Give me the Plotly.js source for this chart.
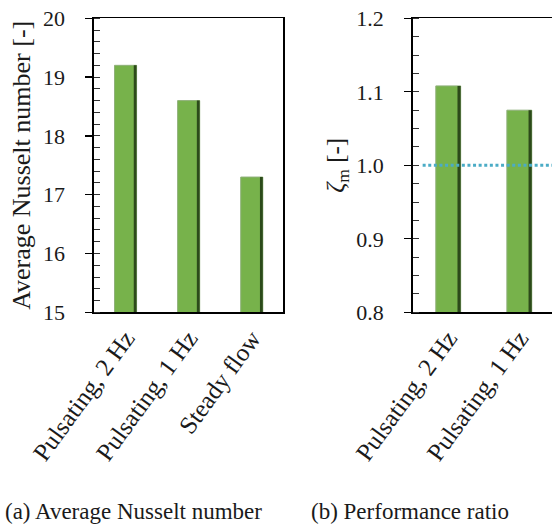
<!DOCTYPE html>
<html>
<head>
<meta charset="utf-8">
<script src="https://cdn.plot.ly/plotly-3.0.1.min.js"></script>
<style>html,body{margin:0;padding:0;background:#fff;}#chart{width:552px;height:524px;}</style>
</head>
<body>
<div id="chart"></div>
<script>
// Data
var categories = ["Pulsating, 2 Hz", "Pulsating, 1 Hz", "Steady flow"];
var nusselt = [19.2, 18.6, 17.3];
var ratio = [1.108, 1.075, 1.0];
var ratioReference = [1.0];
var nusseltTicks = [15, 16, 17, 18, 19, 20];
var ratioTicks = [0.8, 0.9, 1.0, 1.1, 1.2];
var captions = ["(a) Average Nusselt number", "(b) Performance ratio"];

var FONT = "'Liberation Serif', 'Times New Roman', serif";
var TXT = "#1a1a1a";
var GREEN = "#77b24b";
var DARK = "#2c4a1a";
var EDGE = "#8fb07a";

function bars(xa, ya, vals) {
  return [
    {type: "bar", x: categories, y: vals, xaxis: xa, yaxis: ya, width: 0.35, offset: -0.175,
     marker: {color: GREEN, line: {color: EDGE, width: 1}}, hoverinfo: "skip", showlegend: false},
    {type: "bar", x: categories, y: vals, xaxis: xa, yaxis: ya, width: 0.045, offset: 0.13,
     marker: {color: DARK, line: {width: 0}}, hoverinfo: "skip", showlegend: false}
  ];
}

var data = bars("x", "y", nusselt).concat(bars("x2", "y2", ratio));

var H = 524, W = 552;
var yDom = [1 - 312.3 / H, 1 - 18.3 / H];

var baseY = {
  showgrid: false, zeroline: false, showline: true, linecolor: "#000", linewidth: 1.6,
  ticks: "outside", ticklen: 7, tickwidth: 1.3, tickcolor: "#000",
  tickfont: {family: FONT, size: 22, color: TXT}, ticklabelstandoff: 16
};

var layout = {
  width: W, height: H,
  margin: {l: 0, r: 0, t: 0, b: 0},
  paper_bgcolor: "#fff", plot_bgcolor: "#fff",
  barmode: "overlay",
  font: {family: FONT, color: TXT},
  xaxis: {domain: [94 / W, 283.3 / W], anchor: "y", type: "category", range: [-0.5, 2.5],
    showgrid: false, zeroline: false, showline: true, mirror: true, linecolor: "#000", linewidth: 1.4,
    ticks: "", tickangle: -54, tickfont: {family: FONT, size: 25, color: TXT}},
  yaxis: Object.assign({}, baseY, {domain: yDom, anchor: "x", range: [15, 20], tickvals: nusseltTicks,
    mirror: true, minor: {ticks: "inside", ticklen: 6, tickwidth: 1, tickcolor: "#333", dtick: 0.2},
    title: {text: "Average Nusselt number [-]", font: {family: FONT, size: 26, color: TXT}, standoff: 5}}),
  xaxis2: {domain: [412.7 / W, 1], anchor: "y2", type: "category", range: [-0.5, 1.46],
    showgrid: false, zeroline: false, showline: true, mirror: true, linecolor: "#000", linewidth: 1.4,
    ticks: "", tickangle: -54, tickfont: {family: FONT, size: 25, color: TXT}},
  yaxis2: Object.assign({}, baseY, {domain: yDom, anchor: "x2", range: [0.8, 1.2], tickvals: ratioTicks,
    tickformat: ".1f", mirror: false,
    minor: {ticks: "inside", ticklen: 6, tickwidth: 1, tickcolor: "#333", dtick: 0.025},
    title: {text: "<i>ζ</i><sub>m</sub> [-]", font: {family: FONT, size: 25, color: TXT}, standoff: 4}}),
  shapes: [
    {type: "line", xref: "x2", yref: "y2", x0: -0.36, x1: 2.5, y0: ratioReference[0], y1: ratioReference[0],
     line: {color: "#4bacc6", width: 3, dash: "3px,2.6px"}, layer: "above"}
  ],
  annotations: [
    {text: captions[0], xref: "paper", yref: "paper", x: 133 / W, y: 1 - 511 / H, xanchor: "center", yanchor: "middle",
     showarrow: false, font: {family: FONT, size: 23, color: TXT}},
    {text: captions[1], xref: "paper", yref: "paper", x: 410 / W, y: 1 - 511 / H, xanchor: "center", yanchor: "middle",
     showarrow: false, font: {family: FONT, size: 23, color: TXT}}
  ]
};

Plotly.newPlot("chart", data, layout, {staticPlot: true, displayModeBar: false});
</script>
</body>
</html>
